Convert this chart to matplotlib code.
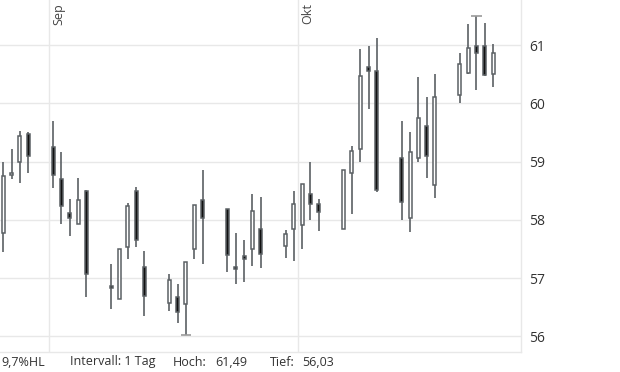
import numpy as np
import pandas as pd
import matplotlib
matplotlib.use("Agg")
import matplotlib.pyplot as plt
import matplotlib.dates as mdates

plt.rcParams['font.family'] = ['Open Sans', 'DejaVu Sans']

# daily candles, Aug 26 - Oct 24 2014
dates = ["2014-08-26", "2014-08-27", "2014-08-28", "2014-08-29",
         "2014-09-01", "2014-09-02", "2014-09-03", "2014-09-04", "2014-09-05",
         "2014-09-08", "2014-09-09", "2014-09-10", "2014-09-11", "2014-09-12",
         "2014-09-15", "2014-09-16", "2014-09-17", "2014-09-18", "2014-09-19",
         "2014-09-22", "2014-09-23", "2014-09-24", "2014-09-25", "2014-09-26",
         "2014-09-29", "2014-09-30", "2014-10-01", "2014-10-02", "2014-10-03",
         "2014-10-06", "2014-10-07", "2014-10-08", "2014-10-09", "2014-10-10",
         "2014-10-13", "2014-10-14", "2014-10-15", "2014-10-16", "2014-10-17",
         "2014-10-20", "2014-10-21", "2014-10-22", "2014-10-23", "2014-10-24"]
opens = [57.78, 58.77, 58.99, 59.48,
         59.25, 58.70, 58.11, 57.93, 58.49,
         56.85, 56.64, 57.53, 58.50, 57.20,
         56.57, 56.68, 56.55, 57.50, 58.34,
         58.18, 57.20, 57.38, 57.50, 57.84,
         57.55, 57.84, 57.92, 58.44, 58.27,
         57.84, 58.80, 59.22, 60.63, 60.55,
         59.07, 58.03, 59.06, 59.61, 58.60,
         60.14, 60.52, 60.98, 60.99, 60.50]
highs = [59.00, 59.22, 59.52, 59.50,
         59.70, 59.16, 58.36, 58.72, 58.52,
         57.24, 57.50, 58.29, 58.56, 57.47,
         57.07, 56.90, 57.28, 58.26, 58.86,
         58.18, 57.78, 57.66, 58.44, 58.39,
         57.82, 58.49, 58.61, 59.00, 58.36,
         58.85, 59.27, 60.93, 60.98, 61.12,
         59.70, 59.51, 60.45, 60.11, 60.51,
         60.86, 61.36, 61.49, 61.38, 61.02]
lows = [57.45, 58.71, 58.63, 58.80,
        58.54, 57.93, 57.73, 57.93, 56.68,
        56.48, 56.64, 57.33, 57.54, 56.35,
        56.44, 56.24, 56.03, 57.33, 57.24,
        57.11, 56.90, 56.94, 57.21, 57.18,
        57.35, 57.29, 57.50, 58.00, 57.81,
        57.84, 58.10, 59.00, 59.90, 58.47,
        58.00, 57.79, 59.00, 58.72, 58.38,
        60.01, 60.50, 60.22, 60.47, 60.28]
closes = [58.75, 58.81, 59.44, 59.09,
          58.77, 58.23, 58.04, 58.34, 57.08,
          56.83, 57.50, 58.24, 57.65, 56.69,
          56.97, 56.42, 57.28, 58.26, 58.03,
          57.39, 57.15, 57.33, 58.16, 57.41,
          57.75, 58.27, 58.61, 58.27, 58.14,
          58.85, 59.18, 60.46, 60.55, 58.52,
          58.31, 59.16, 59.74, 59.10, 60.10,
          60.67, 60.95, 60.87, 60.49, 60.86]
month_starts = ["2014-09-01", "2014-10-01"]
month_labels = ["Sep", "Okt"]
y_ticks = [56, 57, 58, 59, 60, 61]
footer = ["9,7%HL", "Intervall: 1 Tag", "Hoch:", "61,49", "Tief:", "56,03"]

o = np.array(opens)
h = np.array(highs)
l = np.array(lows)
c = np.array(closes)
x = mdates.date2num(pd.to_datetime(dates) + pd.Timedelta(hours=12))
xm = mdates.date2num(pd.to_datetime(month_starts))

fig = plt.figure(figsize=(6.2, 3.72), dpi=100)
ax = fig.add_axes([0, 20 / 372, 521 / 620, 352 / 372])

edge = '#5b6064'
grid = '#e8e8e8'

for v in y_ticks:
    ax.axhline(v, color=grid, lw=1, zorder=0)
for xv in xm:
    ax.axvline(xv, color=grid, lw=1, zorder=0)

ax.vlines(x, l, h, color=edge, lw=1.2, zorder=2)
up = c >= o
body_lo = np.minimum(o, c)
body_h = np.maximum(np.abs(c - o), 0.04)
ax.bar(x[up], body_h[up], 0.36, bottom=body_lo[up], facecolor='white',
       edgecolor=edge, linewidth=1.1, zorder=3)
ax.bar(x[~up], body_h[~up], 0.36, bottom=body_lo[~up], facecolor='#111111',
       edgecolor=edge, linewidth=1.1, zorder=3)

# markers for extreme high / low
ih = int(np.argmax(h))
il = int(np.argmin(l))
ax.hlines([h[ih], l[il]], [x[ih] - 0.65, x[il] - 0.65], [x[ih] + 0.65, x[il] + 0.65],
          color='#9a9a9a', lw=1.2, zorder=2)

ax.set_xlim(xm[0] - 49 / 8.3, xm[0] + 472 / 8.3)
ax.set_ylim(55.734, 61.772)

ax.yaxis.tick_right()
ax.set_yticks(y_ticks)
ax.set_yticklabels([str(v) for v in y_ticks])
ax.tick_params(axis='y', length=0, pad=6, labelsize=10, labelcolor='#333333')
ax.set_xticks([])
for s in ['top', 'left']:
    ax.spines[s].set_visible(False)
for s in ['right', 'bottom']:
    ax.spines[s].set_color(grid)
    ax.spines[s].set_linewidth(1)

for xv, lab in zip(xm, month_labels):
    ax.text(xv + 0.35, 61.72, lab, rotation=90, ha='left', va='top',
            fontsize=9, color='#444444')

fy = 10 / 372
fig.text(45 / 620, fy, footer[0], ha='right', va='center', fontsize=9, color='#333333')
fig.text(70 / 620, fy, footer[1], ha='left', va='center', fontsize=9, color='#333333')
fig.text(173 / 620, fy, footer[2], ha='left', va='center', fontsize=9, color='#333333')
fig.text(215 / 620, fy, footer[3], ha='left', va='center', fontsize=9, color='#333333')
fig.text(270 / 620, fy, footer[4], ha='left', va='center', fontsize=9, color='#333333')
fig.text(302 / 620, fy, footer[5], ha='left', va='center', fontsize=9, color='#333333')

fig.savefig('out.png', dpi=100)
